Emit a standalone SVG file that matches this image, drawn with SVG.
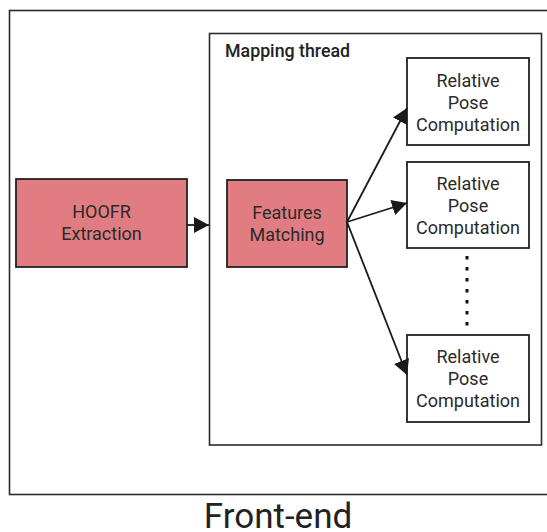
<svg xmlns="http://www.w3.org/2000/svg" width="547" height="532" viewBox="0 0 547 532">
<defs>
<style>
.frame{fill:none;stroke:#2b2b2b;stroke-width:1.6}
.box{fill:#ffffff;stroke:#222;stroke-width:1.8}
.red{fill:#e17c83;stroke:#222;stroke-width:1.8}
.t{font-family:Roboto,"Liberation Sans",sans-serif;font-size:18px;fill:#2a2a2a;text-anchor:middle}
.edge{stroke:#1a1a1a;stroke-width:1.8;fill:none}
</style>
<marker id="arr" markerUnits="userSpaceOnUse" markerWidth="16" markerHeight="16" viewBox="0 0 16 16" refX="15" refY="8" orient="auto">
<path d="M0,0 L15,8 L0,16 Z" fill="#1a1a1a"/>
</marker>
</defs>
<rect width="547" height="532" fill="#ffffff"/>
<g id="frontend">
<rect class="frame" x="9.5" y="10.5" width="545" height="484"/>
<text x="278" y="528" font-family="Roboto,'Liberation Sans',sans-serif" font-size="35" fill="#222" text-anchor="middle">Front-end</text>
</g>
<g id="mapping">
<rect class="frame" x="209.5" y="33.5" width="332" height="411.5" stroke-width="2"/>
<text x="225" y="56.5" font-family="Roboto,'Liberation Sans',sans-serif" font-size="17.8" font-weight="500" fill="#222">Mapping thread</text>
</g>
<g id="hoofr">
<rect class="red" x="16" y="179" width="171" height="88"/>
<text class="t" x="101.5" y="218">HOOFR</text>
<text class="t" x="101.5" y="240">Extraction</text>
</g>
<g id="features">
<rect class="red" x="227" y="180" width="120" height="87"/>
<text class="t" x="287" y="218.5">Features</text>
<text class="t" x="287" y="240.5">Matching</text>
</g>
<g id="rpc1">
<rect class="box" x="407" y="58" width="122" height="87"/>
<text class="t" x="468" y="86.5">Relative</text>
<text class="t" x="468" y="108.5">Pose</text>
<text class="t" x="468" y="130.5">Computation</text>
</g>
<g id="rpc2">
<rect class="box" x="407" y="162" width="122" height="86"/>
<text class="t" x="468" y="189.5">Relative</text>
<text class="t" x="468" y="211.5">Pose</text>
<text class="t" x="468" y="233.5">Computation</text>
</g>
<g id="rpc3">
<rect class="box" x="407" y="335" width="122" height="87"/>
<text class="t" x="468" y="362.5">Relative</text>
<text class="t" x="468" y="384.5">Pose</text>
<text class="t" x="468" y="406.5">Computation</text>
</g>
<g id="connectors">
<line class="edge" x1="187" y1="225" x2="209" y2="225" marker-end="url(#arr)"/>
<line class="edge" x1="347" y1="222" x2="407" y2="108" marker-end="url(#arr)"/>
<line class="edge" x1="347" y1="222" x2="407" y2="203" marker-end="url(#arr)"/>
<line class="edge" x1="347" y1="222" x2="407" y2="375" marker-end="url(#arr)"/>
<line x1="467" y1="256" x2="467" y2="327" stroke="#111" stroke-width="3" stroke-dasharray="3.5 7.5"/>
</g>
</svg>
